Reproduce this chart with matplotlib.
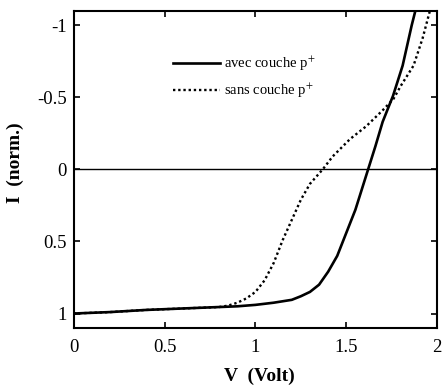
import matplotlib
matplotlib.use("Agg")
import matplotlib.pyplot as plt

plt.rcParams['font.family'] = ['Liberation Serif', 'DejaVu Serif']
plt.rcParams['mathtext.fontset'] = 'stix'

# avec couche p+ (solid)
v_avec = [0.0, 0.2, 0.4, 0.6, 0.8, 0.9, 1.0, 1.1, 1.2, 1.25, 1.3, 1.35, 1.4, 1.45,
          1.5, 1.55, 1.585, 1.62, 1.66, 1.70, 1.757, 1.81, 1.86, 1.88]
i_avec = [1.0, 0.99, 0.975, 0.965, 0.955, 0.95, 0.94, 0.925, 0.905, 0.88, 0.85, 0.8, 0.71, 0.6,
          0.44, 0.28, 0.14, 0.0, -0.16, -0.33, -0.51, -0.72, -1.0, -1.1]

# sans couche p+ (dotted)
v_sans = [0.0, 0.2, 0.4, 0.6, 0.8, 0.85, 0.9, 0.95, 1.0, 1.05, 1.1, 1.15, 1.2, 1.25, 1.3,
          1.37, 1.425, 1.52, 1.61, 1.70, 1.76, 1.80, 1.87, 1.92, 1.96]
i_sans = [1.0, 0.99, 0.975, 0.965, 0.955, 0.945, 0.925, 0.895, 0.85, 0.77, 0.65, 0.49, 0.35, 0.21, 0.1,
          0.0, -0.09, -0.21, -0.30, -0.41, -0.49, -0.58, -0.72, -0.91, -1.1]

xticks = [0, 0.5, 1, 1.5, 2]
xticklabels = ['0', '0.5', '1', '1.5', '2']
yticks = [-1, -0.5, 0, 0.5, 1]
yticklabels = ['-1', '-0.5', '0', '0.5', '1']

fig = plt.figure(figsize=(4.42, 3.89), dpi=100)
ax = fig.add_axes([0.167, 0.157, 0.822, 0.815])

ax.plot(v_avec, i_avec, color='black', lw=1.9, label='avec couche p$^{+}$')
ax.plot(v_sans, i_sans, color='black', lw=1.7, linestyle=(0, (1, 1.2)), label='sans couche p$^{+}$')
ax.axhline(0, color='black', lw=1.0)

ax.set_xlim(0, 2)
ax.set_ylim(1.1, -1.1)
ax.set_xticks(xticks)
ax.set_xticklabels(xticklabels)
ax.set_yticks(yticks)
ax.set_yticklabels(yticklabels)
ax.tick_params(direction='in', top=True, right=True, length=4, width=1.2, labelsize=13.5)
ax.tick_params(axis='y', pad=5)
ax.tick_params(axis='x', pad=8)
for s in ax.spines.values():
    s.set_linewidth(1.5)

ax.set_xlabel('V  (Volt)', fontsize=14, fontweight='bold')
ax.xaxis.set_label_coords(0.51, -0.125)
ax.set_ylabel('I  (norm.)', fontsize=14, fontweight='bold')
ax.yaxis.set_label_coords(-0.138, 0.52)

leg = ax.legend(loc='upper left', bbox_to_anchor=(0.253, 0.885), frameon=False, fontsize=10.5,
                handlelength=3.2, handletextpad=0.3, labelspacing=0.6, borderpad=0)

fig.savefig('out.png', dpi=100)
